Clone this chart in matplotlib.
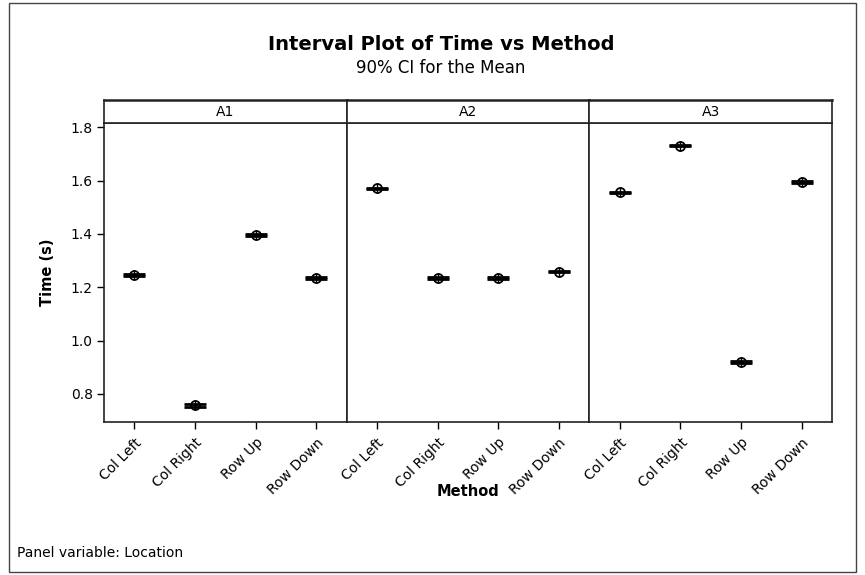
import matplotlib
matplotlib.use("Agg")
import matplotlib.pyplot as plt
from matplotlib.patches import Rectangle

plt.rcParams['font.family'] = ['DejaVu Sans']

methods = ["Col Left", "Col Right", "Row Up", "Row Down"]
locations = ["A1", "A2", "A3"]

# mean time (s) per method, for each location
mean_a1 = [1.245, 0.757, 1.397, 1.234]
mean_a2 = [1.571, 1.234, 1.234, 1.259]
mean_a3 = [1.556, 1.731, 0.919, 1.594]

# half-width of the 90% CI
ci_a1 = [0.003, 0.006, 0.003, 0.003]
ci_a2 = [0.003, 0.003, 0.003, 0.003]
ci_a3 = [0.003, 0.002, 0.004, 0.003]

means = [mean_a1, mean_a2, mean_a3]
cis = [ci_a1, ci_a2, ci_a3]

yticks = [0.8, 1.0, 1.2, 1.4, 1.6, 1.8]

W, H = 865, 575
fig = plt.figure(figsize=(W / 100, H / 100), dpi=100)

# outer frame
fig.add_artist(Rectangle((9 / W, 3 / H), (856 - 9) / W, (572 - 3) / H,
                         transform=fig.transFigure, fill=False,
                         edgecolor="#444444", linewidth=1.0))

left_px, right_px = 104, 832
top_px, bottom_px = 122.7, 421.7
strip_top_px = 100
pw = (right_px - left_px) / 3

edge = "#222222"
for i, loc in enumerate(locations):
    x0 = (left_px + i * pw) / W
    ax = fig.add_axes([x0, 1 - bottom_px / H, pw / W, (bottom_px - top_px) / H])
    xs = list(range(len(methods)))
    ax.errorbar(xs, means[i], yerr=cis[i], fmt="none", ecolor="black",
                elinewidth=1.5, capsize=8, capthick=2.0)
    ax.plot(xs, means[i], linestyle="none", marker="o", markersize=6.5,
            markerfacecolor="none", markeredgecolor="black", markeredgewidth=1.3)
    ax.plot(xs, means[i], linestyle="none", marker="+", markersize=6.5,
            color="black", markeredgewidth=1.0)
    ax.set_xlim(-0.5, 3.5)
    ax.set_ylim(0.696, 1.817)
    ax.set_xticks(xs)
    ax.set_xticklabels(methods, rotation=45, ha="right", va="top",
                       rotation_mode="anchor", fontsize=10)
    ax.tick_params(axis="x", length=5, width=1, direction="out", pad=5)
    if i == 0:
        ax.set_yticks(yticks)
        ax.set_yticklabels([f"{v:.1f}" for v in yticks], fontsize=10)
        ax.tick_params(axis="y", length=5, width=1, direction="out", pad=3)
    else:
        ax.set_yticks([])
    for s in ax.spines.values():
        s.set_color(edge)
        s.set_linewidth(1.2)

    sax = fig.add_axes([x0, 1 - top_px / H, pw / W, (top_px - strip_top_px) / H])
    sax.set_xticks([])
    sax.set_yticks([])
    for s in sax.spines.values():
        s.set_color(edge)
        s.set_linewidth(1.2)
    sax.spines["top"].set_linewidth(1.8)
    sax.text(0.5, 0.45, loc, ha="center", va="center", fontsize=10,
             transform=sax.transAxes)

tx = 441 / W
fig.text(tx, 1 - 45 / H, "Interval Plot of Time vs Method", ha="center",
         va="center", fontsize=14, fontweight="bold")
fig.text(tx, 1 - 68 / H, "90% CI for the Mean", ha="center", va="center",
         fontsize=12)
fig.text(47 / W, 1 - 272 / H, "Time (s)", ha="center", va="center",
         rotation=90, fontsize=10.5, fontweight="bold")
fig.text(468 / W, 1 - 491 / H, "Method", ha="center", va="center",
         fontsize=10.5, fontweight="bold")
fig.text(17 / W, 1 - 553 / H, "Panel variable: Location", ha="left",
         va="center", fontsize=10)

fig.savefig("out.png", dpi=100)
